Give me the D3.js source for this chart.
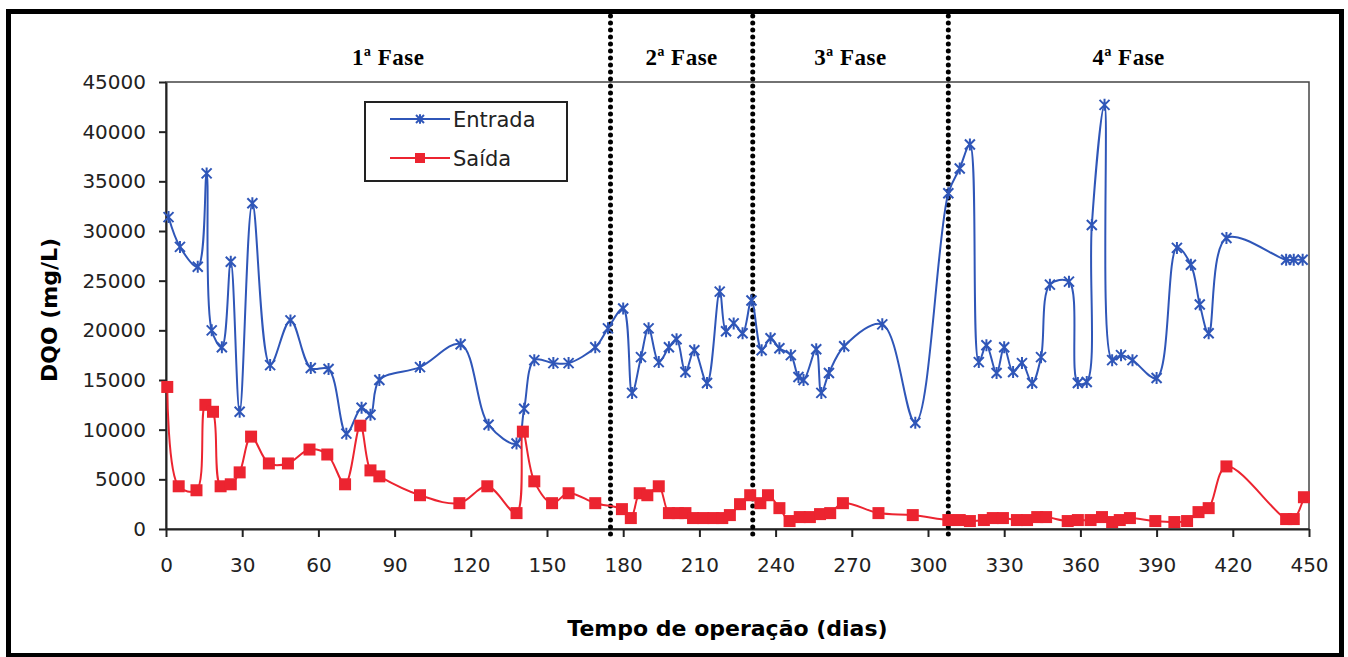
<!DOCTYPE html>
<html>
<head>
<meta charset="utf-8">
<script src="https://cdn.jsdelivr.net/npm/d3@7"></script>
<style>
  body { margin: 0; background: #fff; }
  .axis text { font-family: "DejaVu Sans", sans-serif; font-size: 20px; fill: #222; }
  .axis path, .axis line { stroke: #222; }
</style>
</head>
<body>
<div id="vis"></div>
<script>
// DQO de entrada e saída ao longo do tempo de operação

var entradaDias = [1, 5.5, 12.5, 16, 18, 22, 25.5, 29, 34, 41, 49, 57, 64, 71, 77, 80.5, 84, 100,
  116, 127, 138, 141, 145, 152.5, 158.5, 169, 174, 180, 183.5, 187, 190, 194, 198, 201, 204.5,
  208, 213, 218, 220.5, 223.5, 227, 230.5, 234.5, 238, 241.5, 246, 249, 251, 256, 258, 261, 267,
  282, 295, 308, 312.5, 316.5, 320, 323, 327, 330, 333.5, 337, 341, 344.5, 348, 355.5, 359, 362.5,
  364.5, 369.5, 372.5, 376, 380.5, 390, 398, 403.5, 407, 410.5, 417.5, 441, 444, 447.5];
var entradaDQO = [31400, 28400, 26400, 35800, 20000, 18300, 26900, 11800, 32800, 16500, 21000, 16200,
  16100, 9600, 12200, 11500, 15000, 16300, 18600, 10500, 8600, 12100, 17000, 16700, 16700, 18300,
  20200, 22200, 13700, 17300, 20200, 16800, 18300, 19100, 15800, 18000, 14700, 23900, 19900, 20700,
  19700, 23000, 18000, 19200, 18200, 17500, 15300, 15000, 18100, 13700, 15700, 18400, 20600, 10700,
  33800, 36300, 38700, 16800, 18500, 15700, 18300, 15800, 16700, 14700, 17300, 24600, 24900, 14700,
  14800, 30600, 42700, 17000, 17500, 17000, 15200, 28300, 26600, 22600, 19700, 29300, 27100, 27100, 27100];

var saidaDias = [0.5, 5, 12, 15.5, 18.5, 21.5, 25.5, 29, 33.5, 40.5, 48, 56.5, 63.5, 70.5, 76.5, 80.5,
  84, 100, 115.5, 126.5, 138, 140.5, 145, 152, 158.5, 169, 179.5, 183, 186.5, 189.5, 194, 198, 201.5,
  204.5, 207.5, 211.5, 215.5, 219, 222, 226, 230, 234, 237, 241.5, 245.5, 249.5, 253.5, 257.5, 261.5,
  266.5, 280.5, 294, 308, 312.5, 316.5, 322, 325.5, 329.5, 335, 339, 343, 346.5, 355, 359, 364, 368.5,
  372.5, 375.5, 379.5, 389.5, 397, 402, 406.5, 410.5, 417.5, 441, 444, 448];
var saidaDQO = [14300, 4300, 3900, 12500, 11800, 4300, 4500, 5700, 9300, 6600, 6600, 8000, 7500, 4500,
  10400, 5900, 5300, 3400, 2600, 4300, 1600, 9800, 4800, 2600, 3600, 2600, 2000, 1100, 3600, 3400, 4300,
  1600, 1600, 1600, 1100, 1100, 1100, 1100, 1400, 2500, 3400, 2600, 3400, 2100, 800, 1200, 1200, 1500,
  1600, 2600, 1600, 1400, 900, 900, 800, 900, 1100, 1100, 900, 900, 1200, 1200, 800, 900, 900, 1200,
  700, 900, 1100, 800, 700, 800, 1700, 2100, 6300, 1000, 1000, 3200];

var xTicks = [0, 30, 60, 90, 120, 150, 180, 210, 240, 270, 300, 330, 360, 390, 420, 450];
var yTicks = [0, 5000, 10000, 15000, 20000, 25000, 30000, 35000, 40000, 45000];
var fases = ["1ª Fase", "2ª Fase", "3ª Fase", "4ª Fase"];
var limitesFase = [175, 231, 308];
var seriesNames = ["Entrada", "Saída"];

var width = 1348, height = 657;
var margin = {top: 82, left: 166, right: 39, bottom: 128};
var graphWidth = width - margin.left - margin.right,
    graphHeight = height - margin.top - margin.bottom;

var blue = "#2f56b8", red = "#ec2430";

var svg = d3.select("#vis").append("svg")
  .attr("width", width)
  .attr("height", height);

// outer frame
svg.append("rect")
  .attr("x", 8.5).attr("y", 11.5)
  .attr("width", 1333).attr("height", 644)
  .attr("fill", "none")
  .attr("stroke", "#000")
  .attr("stroke-width", 5);

var x = d3.scaleLinear().domain([0, 450]).range([0, graphWidth]);
var y = d3.scaleLinear().domain([0, 45000]).range([graphHeight, 0]);

var graph = svg.append("g")
  .attr("transform", "translate(" + margin.left + "," + margin.top + ")");

// plot area box
graph.append("rect")
  .attr("width", graphWidth).attr("height", graphHeight)
  .attr("fill", "none")
  .attr("stroke", "#444")
  .attr("stroke-width", 1.5);

graph.append("g")
  .attr("class", "axis")
  .call(d3.axisLeft(y).tickValues(yTicks).tickSize(7).tickSizeOuter(0).tickPadding(13).tickFormat(d3.format("d")))
  .call(function(g) { g.selectAll("path, line").attr("stroke-width", 2); });

graph.append("g")
  .attr("class", "axis")
  .attr("transform", "translate(0," + graphHeight + ")")
  .call(d3.axisBottom(x).tickValues(xTicks).tickSize(8).tickSizeOuter(0).tickPadding(21))
  .call(function(g) { g.selectAll("path, line").attr("stroke-width", 2); });

// phase separators
graph.selectAll(".fase-line")
  .data(limitesFase)
  .enter().append("line")
  .attr("class", "fase-line")
  .attr("x1", function(d) { return x(d); })
  .attr("x2", function(d) { return x(d); })
  .attr("y1", -66)
  .attr("y2", graphHeight + 11)
  .attr("stroke", "#000")
  .attr("stroke-width", 5)
  .attr("stroke-linecap", "round")
  .attr("stroke-dasharray", "0,7");

// phase labels, centred in each phase
var bounds = [0].concat(limitesFase, [450]);
graph.selectAll(".fase-label")
  .data(fases)
  .enter().append("text")
  .attr("class", "fase-label")
  .attr("x", function(d, i) { return x((bounds[i] + bounds[i + 1]) / 2); })
  .attr("y", -17)
  .attr("text-anchor", "middle")
  .style("font-family", "'Liberation Serif', serif")
  .style("font-weight", "bold")
  .style("font-size", "23px")
  .style("letter-spacing", "0.5px")
  .text(function(d) { return d; });

// series
var curve = d3.curveCatmullRom.alpha(0.5);
var entrada = entradaDias.map(function(d, i) { return [d, entradaDQO[i]]; });
var saida = saidaDias.map(function(d, i) { return [d, saidaDQO[i]]; });

var line = d3.line()
  .x(function(d) { return x(d[0]); })
  .y(function(d) { return y(d[1]); })
  .curve(curve);

function star(g, s, color) {
  g.append("path")
    .attr("d", "M" + (-s) + "," + (-s) + "L" + s + "," + s + "M" + (-s) + "," + s + "L" + s + "," + (-s) +
      "M0," + (-s * 1.2) + "L0," + (s * 1.2))
    .attr("stroke", color)
    .attr("stroke-width", 2)
    .attr("fill", "none");
}

graph.append("path")
  .datum(entrada)
  .attr("d", line)
  .attr("fill", "none")
  .attr("stroke", blue)
  .attr("stroke-width", 2);

graph.selectAll(".pt-entrada")
  .data(entrada)
  .enter().append("g")
  .attr("class", "pt-entrada")
  .attr("transform", function(d) { return "translate(" + x(d[0]) + "," + y(d[1]) + ")"; })
  .each(function() { star(d3.select(this), 5, blue); });

graph.append("path")
  .datum(saida)
  .attr("d", line)
  .attr("fill", "none")
  .attr("stroke", red)
  .attr("stroke-width", 2);

graph.selectAll(".pt-saida")
  .data(saida)
  .enter().append("rect")
  .attr("class", "pt-saida")
  .attr("x", function(d) { return x(d[0]) - 6; })
  .attr("y", function(d) { return y(d[1]) - 6; })
  .attr("width", 12).attr("height", 12)
  .attr("fill", red);

// legend
var legend = svg.append("g").attr("transform", "translate(365,102)");
legend.append("rect")
  .attr("width", 202).attr("height", 79)
  .attr("fill", "#fff")
  .attr("stroke", "#222")
  .attr("stroke-width", 2);

var colors = [blue, red];
seriesNames.forEach(function(name, i) {
  var ly = 17 + i * 39;
  legend.append("line")
    .attr("x1", 25).attr("x2", 85)
    .attr("y1", ly).attr("y2", ly)
    .attr("stroke", colors[i]).attr("stroke-width", 2);
  if (i === 0) {
    star(legend.append("g").attr("transform", "translate(55," + ly + ")"), 4, blue);
  } else {
    legend.append("rect")
      .attr("x", 50).attr("y", ly - 5).attr("width", 10).attr("height", 10)
      .attr("fill", red);
  }
  legend.append("text")
    .attr("x", 88).attr("y", ly + 8)
    .style("font-family", "'DejaVu Sans', sans-serif")
    .style("font-size", "21px")
    .attr("fill", "#222")
    .text(name);
});

// axis titles
svg.append("text")
  .attr("x", margin.left + graphWidth / 2 - 10)
  .attr("y", 636)
  .attr("text-anchor", "middle")
  .style("font-family", "'DejaVu Sans', sans-serif")
  .style("font-weight", "bold")
  .style("font-size", "22px")
  .text("Tempo de operação (dias)");

svg.append("text")
  .attr("transform", "translate(57," + 310 + ") rotate(-90)")
  .attr("text-anchor", "middle")
  .style("font-family", "'DejaVu Sans', sans-serif")
  .style("font-weight", "bold")
  .style("font-size", "22px")
  .text("DQO (mg/L)");
</script>
</body>
</html>
